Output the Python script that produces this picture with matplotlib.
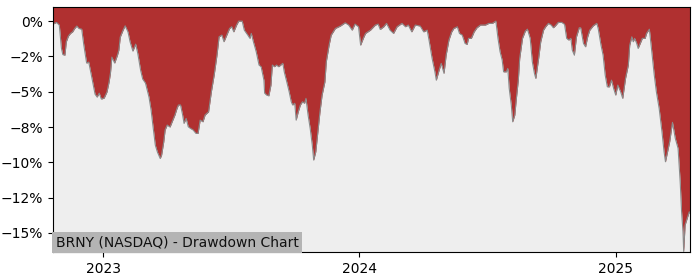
"""Drawdown chart for BRNY (NASDAQ)."""

import numpy as np
import pandas as pd
import matplotlib
matplotlib.use('Agg')
import matplotlib.pyplot as plt
import matplotlib.dates as mdates
from matplotlib.ticker import FuncFormatter, FixedLocator

TITLE = 'BRNY (NASDAQ) - Drawdown Chart'
FILL_COLOR = '#b03030'
BG_COLOR = '#eeeeee'

# dates of the points
dates = [
    '2022-10-21', '2022-10-26', '2022-10-30', '2022-11-02', '2022-11-04',
    '2022-11-07', '2022-11-09', '2022-11-12', '2022-11-15', '2022-11-18',
    '2022-11-21', '2022-11-24', '2022-11-27', '2022-12-01', '2022-12-04',
    '2022-12-08', '2022-12-11', '2022-12-15', '2022-12-20', '2022-12-23',
    '2022-12-26', '2022-12-29', '2023-01-02', '2023-01-06', '2023-01-09',
    '2023-01-11', '2023-01-13', '2023-01-17', '2023-01-21', '2023-01-23',
    '2023-01-25', '2023-01-29', '2023-02-01', '2023-02-05', '2023-02-08',
    '2023-02-12', '2023-02-16', '2023-02-19', '2023-02-23', '2023-02-26',
    '2023-03-02', '2023-03-07', '2023-03-10', '2023-03-12', '2023-03-16',
    '2023-03-19', '2023-03-23', '2023-03-25', '2023-03-28', '2023-03-30',
    '2023-04-02', '2023-04-06', '2023-04-10', '2023-04-13', '2023-04-16',
    '2023-04-18', '2023-04-21', '2023-04-24', '2023-04-26', '2023-04-29',
    '2023-05-02', '2023-05-05', '2023-05-09', '2023-05-13', '2023-05-16',
    '2023-05-19', '2023-05-23', '2023-05-26', '2023-05-31', '2023-06-04',
    '2023-06-08', '2023-06-12', '2023-06-15', '2023-06-19', '2023-06-22',
    '2023-06-26', '2023-06-30', '2023-07-03', '2023-07-06', '2023-07-10',
    '2023-07-13', '2023-07-18', '2023-07-21', '2023-07-26', '2023-07-29',
    '2023-07-31', '2023-08-03', '2023-08-07', '2023-08-11', '2023-08-14',
    '2023-08-18', '2023-08-19', '2023-08-22', '2023-08-25', '2023-08-28',
    '2023-08-30', '2023-09-02', '2023-09-05', '2023-09-08', '2023-09-14',
    '2023-09-16', '2023-09-19', '2023-09-23', '2023-09-26', '2023-09-28',
    '2023-10-01', '2023-10-03', '2023-10-06', '2023-10-09', '2023-10-12',
    '2023-10-15', '2023-10-17', '2023-10-20', '2023-10-23', '2023-10-26',
    '2023-10-28', '2023-10-31', '2023-11-03', '2023-11-06', '2023-11-09',
    '2023-11-13', '2023-11-15', '2023-11-19', '2023-11-22', '2023-11-28',
    '2023-12-05', '2023-12-12', '2023-12-17', '2023-12-22', '2023-12-26',
    '2023-12-31', '2024-01-03', '2024-01-07', '2024-01-10', '2024-01-17',
    '2024-01-24', '2024-01-28', '2024-01-31', '2024-02-05', '2024-02-09',
    '2024-02-14', '2024-02-19', '2024-02-24', '2024-03-02', '2024-03-07',
    '2024-03-11', '2024-03-16', '2024-03-21', '2024-03-28', '2024-04-02',
    '2024-04-07', '2024-04-10', '2024-04-14', '2024-04-18', '2024-04-20',
    '2024-04-24', '2024-04-27', '2024-05-01', '2024-05-04', '2024-05-08',
    '2024-05-12', '2024-05-15', '2024-05-20', '2024-05-23', '2024-05-27',
    '2024-05-31', '2024-06-03', '2024-06-05', '2024-06-09', '2024-06-13',
    '2024-06-17', '2024-06-22', '2024-06-29', '2024-07-04', '2024-07-09',
    '2024-07-14', '2024-07-17', '2024-07-20', '2024-07-23', '2024-07-25',
    '2024-07-29', '2024-07-31', '2024-08-02', '2024-08-05', '2024-08-07',
    '2024-08-10', '2024-08-12', '2024-08-15', '2024-08-17', '2024-08-21',
    '2024-08-25', '2024-08-28', '2024-09-01', '2024-09-04', '2024-09-07',
    '2024-09-09', '2024-09-13', '2024-09-16', '2024-09-20', '2024-09-23',
    '2024-09-27', '2024-10-01', '2024-10-04', '2024-10-07', '2024-10-11',
    '2024-10-16', '2024-10-20', '2024-10-23', '2024-10-26', '2024-10-29',
    '2024-10-31', '2024-11-03', '2024-11-06', '2024-11-10', '2024-11-12',
    '2024-11-16', '2024-11-19', '2024-11-22', '2024-11-25', '2024-11-30',
    '2024-12-05', '2024-12-07', '2024-12-11', '2024-12-14', '2024-12-17',
    '2024-12-20', '2024-12-23', '2024-12-26', '2024-12-29', '2025-01-01',
    '2025-01-04', '2025-01-08', '2025-01-11', '2025-01-15', '2025-01-19',
    '2025-01-21', '2025-01-24', '2025-01-26', '2025-01-28', '2025-01-31',
    '2025-02-02', '2025-02-06', '2025-02-08', '2025-02-12', '2025-02-14',
    '2025-02-18', '2025-02-21', '2025-02-25', '2025-02-28', '2025-03-04',
    '2025-03-08', '2025-03-11', '2025-03-13', '2025-03-16', '2025-03-19',
    '2025-03-23', '2025-03-27', '2025-03-31', '2025-04-03', '2025-04-05',
    '2025-04-07', '2025-04-08', '2025-04-10', '2025-04-13', '2025-04-16',
    '2025-04-17',
]

# drawdown from running peak, in percent
drawdown = [
    -0.21, -0.09, -0.28, -1.91, -2.37,
    -2.41, -1.46, -1.06, -0.87, -0.76,
    -0.52, -0.35, -0.52, -0.57, -1.70,
    -2.97, -2.90, -3.89, -5.17, -5.38,
    -5.10, -5.52, -5.45, -5.02, -4.32,
    -3.68, -2.55, -2.97, -2.41, -2.05,
    -1.13, -0.64, -0.33, -0.76, -1.46,
    -2.12, -1.63, -2.29, -3.47, -4.10,
    -4.39, -5.38, -6.30, -7.15, -8.78,
    -9.27, -9.73, -9.48, -8.56, -7.71,
    -7.36, -7.50, -7.01, -6.65, -6.18,
    -5.94, -5.94, -6.65, -7.24, -6.89,
    -7.48, -7.59, -7.71, -7.95, -7.95,
    -7.01, -7.13, -6.65, -6.42, -5.00,
    -3.82, -2.41, -1.11, -0.99, -1.46,
    -0.99, -0.52, -0.40, -0.76, -0.28,
    0.00, 0.00, -0.64, -0.99, -1.22,
    -0.87, -1.46, -2.17, -3.11, -3.23,
    -4.18, -5.10, -5.24, -5.29, -4.53,
    -3.11, -3.23, -3.11, -3.23, -2.99,
    -3.59, -4.18, -5.00, -5.71, -5.94,
    -5.82, -7.01, -6.42, -5.94, -5.71,
    -5.82, -5.47, -6.65, -7.59, -8.78,
    -9.84, -9.25, -7.83, -6.42, -5.24,
    -4.30, -2.88, -1.70, -0.99, -0.52,
    -0.35, -0.12, -0.28, -0.64, -0.21,
    -0.40, -1.70, -1.20, -0.87, -0.64,
    -0.28, -0.21, -0.59, -0.40, -0.16,
    -0.64, -0.87, -0.40, -0.16, -0.40,
    -0.28, -0.76, -0.28, -0.35, -0.76,
    -0.64, -1.46, -2.64, -3.59, -4.18,
    -3.47, -2.99, -3.70, -2.41, -1.34,
    -0.76, -0.52, -0.40, -0.87, -0.99,
    -1.58, -1.65, -1.22, -1.22, -0.76,
    -0.47, -0.28, -0.28, -0.16, -0.16,
    0.00, -1.22, -2.17, -2.76, -3.59,
    -3.59, -3.35, -4.76, -5.94, -7.13,
    -6.65, -5.59, -4.18, -2.64, -1.22,
    -0.71, -0.57, -1.22, -2.88, -3.70,
    -4.06, -2.64, -1.46, -0.64, -0.40,
    -0.16, -0.28, -0.47, -0.33, -0.09,
    -0.09, -0.23, -1.22, -1.34, -1.22,
    -2.05, -2.41, -1.11, -0.47, -0.47,
    -1.58, -1.82, -1.11, -0.64, -0.33,
    -0.16, -0.52, -1.70, -2.41, -3.82,
    -4.65, -4.65, -4.18, -4.76, -5.24,
    -4.53, -5.00, -5.47, -4.06, -3.11,
    -1.70, -1.11, -1.46, -1.22, -1.58,
    -1.93, -1.46, -1.22, -1.22, -0.87,
    -0.57, -1.93, -3.82, -5.00, -6.18,
    -7.83, -9.25, -9.96, -9.25, -8.54,
    -7.17, -8.30, -9.01, -11.37, -13.50,
    -14.91, -16.31, -14.44, -13.96, -13.50,
    -13.59,
]

y_ticks = [0, -2.5, -5, -7.5, -10, -12.5, -15]


def pct_label(v, _pos):
  """Format tick as whole percent with a real minus sign."""
  if abs(v) < 1e-9:
    return '0%'
  return f'{v:.0f}%'.replace('-', '\u2212')


def build_plot():
  """Draw the drawdown area and save it."""
  df = pd.DataFrame({'date': pd.to_datetime(dates), 'dd': drawdown})
  y_top, y_bottom = 1.0, -16.35

  fig = plt.figure(figsize=(7, 2.8), dpi=100)
  ax = fig.add_axes([0.0757, 0.1, 0.91, 0.875])
  ax.set_facecolor(BG_COLOR)

  ax.fill_between(df['date'], df['dd'], y_top, color=FILL_COLOR, lw=0)
  ax.plot(df['date'], df['dd'], color='#8a8a8a', lw=0.8)

  ax.set_xlim(df['date'].iloc[0], df['date'].iloc[-1])
  ax.set_ylim(y_bottom, y_top)
  ax.yaxis.set_major_locator(FixedLocator(y_ticks))
  ax.yaxis.set_major_formatter(FuncFormatter(pct_label))
  ax.xaxis.set_major_locator(mdates.YearLocator())
  ax.xaxis.set_major_formatter(mdates.DateFormatter('%Y'))

  ax.text(0.004, 0.012, TITLE, transform=ax.transAxes, ha='left', va='bottom',
          fontsize=10, color='#111111',
          bbox=dict(facecolor='#b4b4b4', edgecolor='none', pad=2.5))

  fig.savefig('out.png', dpi=100)


if __name__ == '__main__':
  build_plot()
